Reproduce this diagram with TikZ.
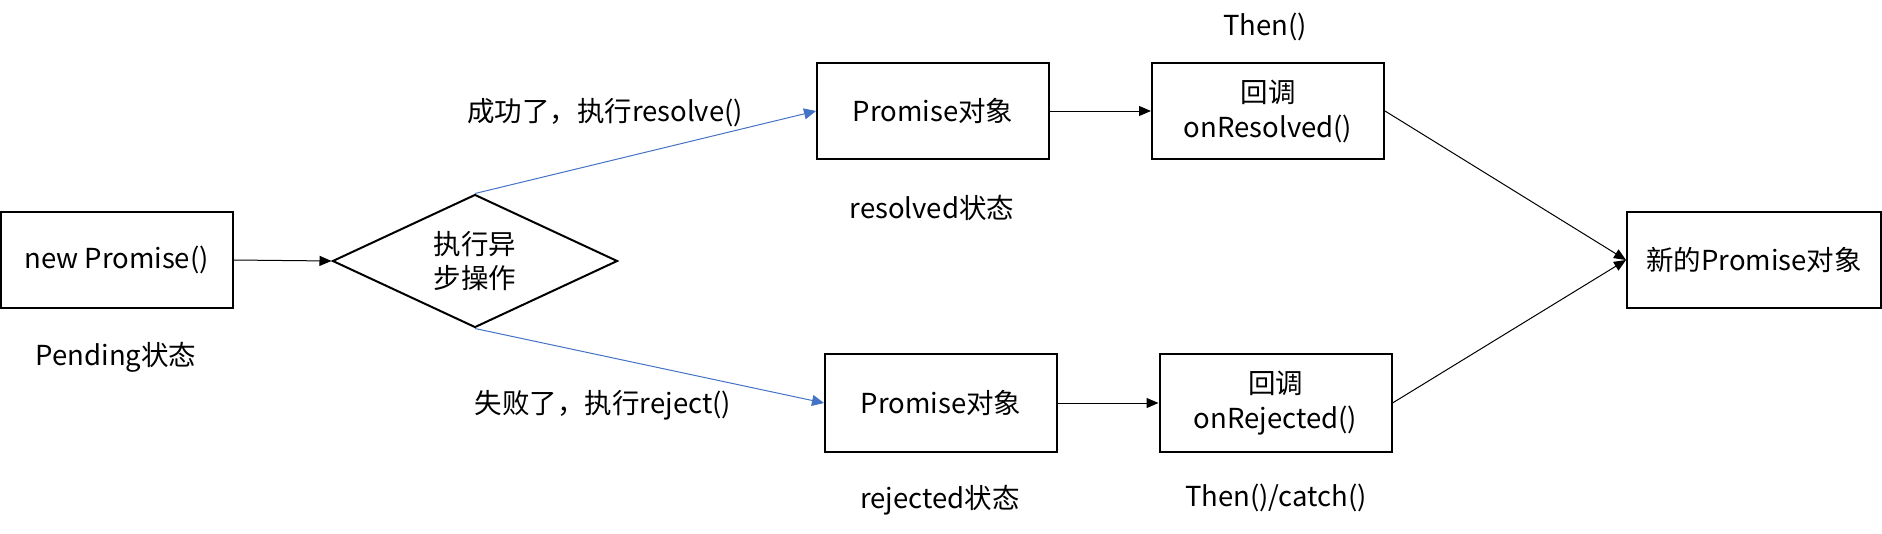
\documentclass[tikz,border=0pt]{standalone}
\usepackage{fontspec}
\setmainfont{Noto Sans CJK SC}
\usetikzlibrary{shapes.geometric,arrows.meta}
\definecolor{flowblue}{HTML}{4472C4}
\tikzset{
  box/.style={draw=black, line width=2pt, rectangle, minimum width=232pt, minimum height=96pt, inner sep=0pt, align=center, font=\fontsize{27.5}{35}\selectfont},
  lbl/.style={inner sep=0pt, font=\fontsize{27.5}{33}\selectfont},
  conn/.style={line width=1pt, -{Triangle[length=12pt,width=10pt]}},
  bconn/.style={line width=1pt, color=flowblue, -{Triangle[length=12pt,width=11pt]}}
}
\begin{document}
\begin{tikzpicture}[x=1pt,y=-1pt]
\useasboundingbox (0,0) rectangle (1882,533);
\node[box] (np) at (116.5,260) {new Promise()};
\node[draw=black, line width=2pt, diamond, shape aspect=2.14, minimum width=285pt, minimum height=133pt, inner sep=0pt, align=center, font=\fontsize{27.5}{34}\selectfont] (dia) at (475,261) {执行异\\步操作};
\node[box] (p1) at (933,111) {Promise对象};
\node[box, minimum height=98pt] (p2) at (941,403) {Promise对象};
\node[box] (c1) at (1268,111) {回调\\onResolved()};
\node[box, minimum height=98pt] (c2) at (1275.5,403) {回调\\onRejected()};
\node[box, minimum width=254pt] (np2) at (1754,260) {新的Promise对象};

\node[lbl] (pend) at (116,357) {Pending状态};
\node[lbl] (succ) at (605,113) {成功了，执行resolve()};
\node[lbl] (fail) at (603,405) {失败了，执行reject()};
\node[lbl] (rsd) at (932,208) {resolved状态};
\node[lbl] (rjd) at (940,500) {rejected状态};
\node[lbl] (then) at (1265,27) {Then()};
\node[lbl] (thc) at (1276,498) {Then()/catch()};

\draw[conn] (np.east) -- (dia.west);
\draw[bconn] (dia.north) -- (p1.west);
\draw[bconn] (dia.south) -- (p2.west);
\draw[conn] (p1.east) -- (c1.west);
\draw[conn] (p2.east) -- (c2.west);
\draw[conn] (c1.east) -- (np2.west);
\draw[conn] (c2.east) -- (np2.west);
\end{tikzpicture}
\end{document}
